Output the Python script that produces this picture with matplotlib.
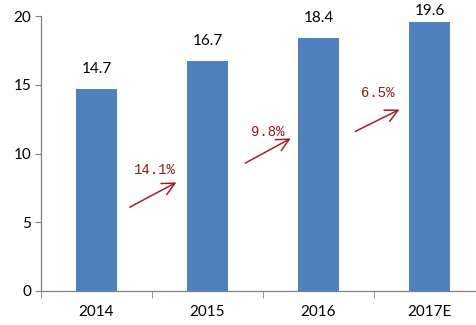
import matplotlib
matplotlib.use("Agg")
import matplotlib.pyplot as plt

categories = ["2014", "2015", "2016", "2017E"]
values = [14.7, 16.7, 18.4, 19.6]
growth_labels = ["14.1%", "9.8%", "6.5%"]
# arrow start/end (category units, value units) and label position
arrow_starts = [(0.30, 6.1), (1.34, 9.3), (2.33, 11.6)]
arrow_ends = [(0.72, 7.9), (1.75, 11.1), (2.73, 13.2)]
label_pos = [(0.53, 8.8), (1.54, 11.6), (2.53, 14.4)]
yticks = [0, 5, 10, 15, 20]

plt.rcParams['font.family'] = ['Lato', 'DejaVu Sans']

fig = plt.figure(figsize=(4.76, 3.25), dpi=100)
ax = fig.add_axes([41/476, 34/325, 444/476, 275/325])

x = list(range(len(categories)))
ax.bar(x, values, width=0.37, color="#4F81BD", zorder=2)

ax.set_xlim(-0.5, len(categories) - 0.5)
ax.set_ylim(0, 20)

# value labels: normally ~13px above the bar, pushed down if they would leave the figure
fig_h_px = 325
for xi, v in zip(x, values):
    bar_top_px = ax.transData.transform((xi, v))[1]  # from bottom
    room = fig_h_px - 7 - bar_top_px - 11  # px available above bar for the gap
    gap_px = max(2, min(13, room))
    ax.annotate(f"{v:.1f}", (xi, v), xytext=(0, gap_px * 72 / 100), textcoords="offset points",
                ha="center", va="bottom", fontsize=11, color="#000000",
                annotation_clip=False)

red = "#A0202A"
for (s, e, lp, lab) in zip(arrow_starts, arrow_ends, label_pos, growth_labels):
    ax.annotate("", xy=e, xytext=s,
                arrowprops=dict(arrowstyle="->,head_length=0.5,head_width=0.25", color=red, lw=1.1,
                                mutation_scale=18, shrinkA=0, shrinkB=0), zorder=4)
    ax.text(lp[0], lp[1], lab, ha="center", va="center", fontsize=10,
            color="#8B1A22", family=["Liberation Mono", "DejaVu Sans Mono"], zorder=4)

ax.set_yticks(yticks)
ax.set_yticklabels([str(t) for t in yticks], fontsize=11)
ax.set_xticks(x)
ax.set_xticklabels(categories, fontsize=11)
ax.tick_params(axis="x", which="major", length=0, pad=10)
ax.set_xticks([i - 0.5 for i in range(len(categories) + 1)], minor=True)
ax.tick_params(axis="x", which="minor", length=5, color="#808080", direction="out")
ax.tick_params(axis="y", length=4, color="#808080", direction="out", pad=3)

for sp in ["top", "right"]:
    ax.spines[sp].set_visible(False)
for sp in ["left", "bottom"]:
    ax.spines[sp].set_color("#808080")
    ax.spines[sp].set_linewidth(0.9)

fig.savefig("out.png", dpi=100)
